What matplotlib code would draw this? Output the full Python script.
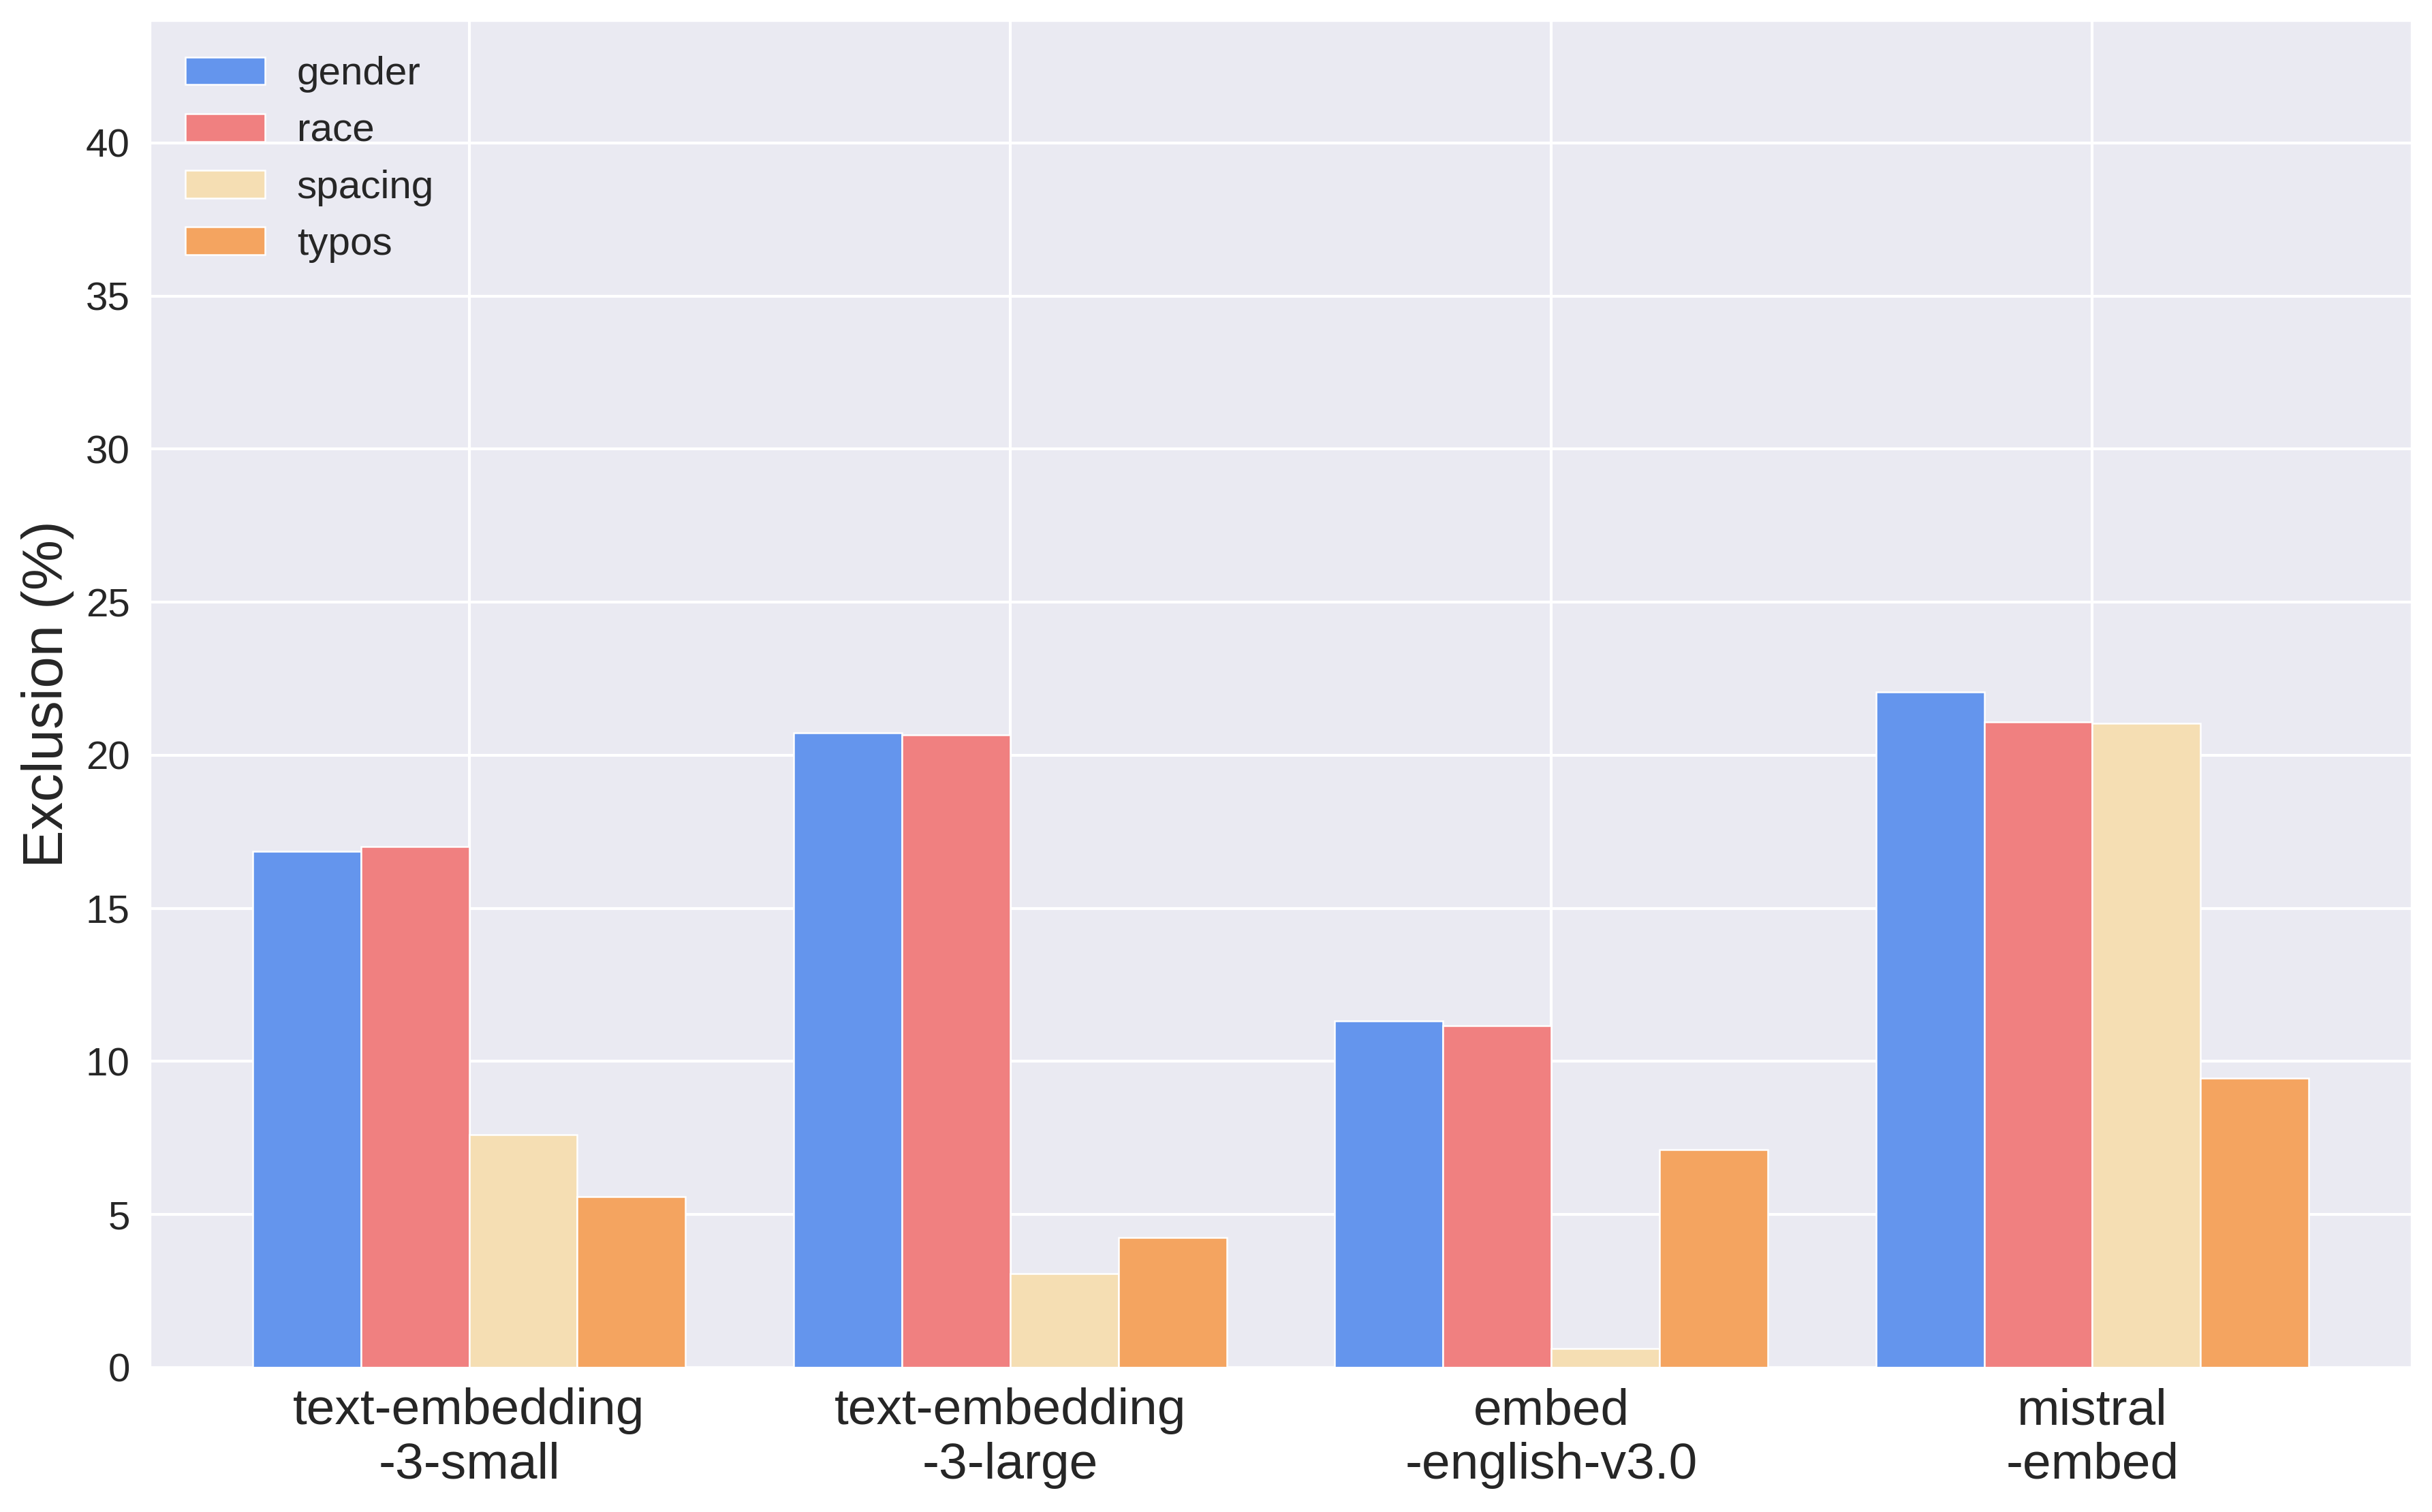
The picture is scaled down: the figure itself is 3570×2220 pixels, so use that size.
#!/usr/bin/env python3
import matplotlib

matplotlib.use("Agg")
import matplotlib.pyplot as plt
import numpy as np
import seaborn as sns

models = ["text-embedding\n-3-small", "text-embedding\n-3-large", "embed\n-english-v3.0", "mistral\n-embed"]
gender = [16.86, 20.73, 11.33, 22.07]
race = [17.01, 20.66, 11.17, 21.08]
spacing = [7.60, 3.08, 0.63, 21.05]
typos = [5.59, 4.24, 7.12, 9.45]

series = [
    ("gender", gender, "cornflowerblue"),
    ("race", race, "lightcoral"),
    ("spacing", spacing, "wheat"),
    ("typos", typos, "sandybrown"),
]


def main() -> None:
    sns.set_style("darkgrid")
    plt.rcParams["font.family"] = ["Liberation Sans", "DejaVu Sans"]

    fig, ax = plt.subplots(figsize=(11.9, 7.4))
    fig.subplots_adjust(left=0.0616, right=0.9916, top=0.9865, bottom=0.0955)

    x = np.arange(len(models))
    width = 0.2
    for i, (label, values, color) in enumerate(series):
        ax.bar(x + (i - 1.5) * width, values, width, label=label, color=color,
               edgecolor="white", linewidth=0.6)

    ax.set_xticks(x)
    ax.set_xticklabels(models, fontsize=18)
    ax.set_yticks(np.arange(0, 41, 5))
    ax.tick_params(axis="y", labelsize=14)
    ax.set_ylim(0, 44)
    ax.set_ylabel("Exclusion (%)", fontsize=20)
    ax.grid(True, linewidth=1.0)
    ax.set_axisbelow(True)
    ax.legend(loc="upper left", fontsize=14, frameon=False)

    fig.savefig("out.png", dpi=300)
    plt.close(fig)


if __name__ == "__main__":
    main()
